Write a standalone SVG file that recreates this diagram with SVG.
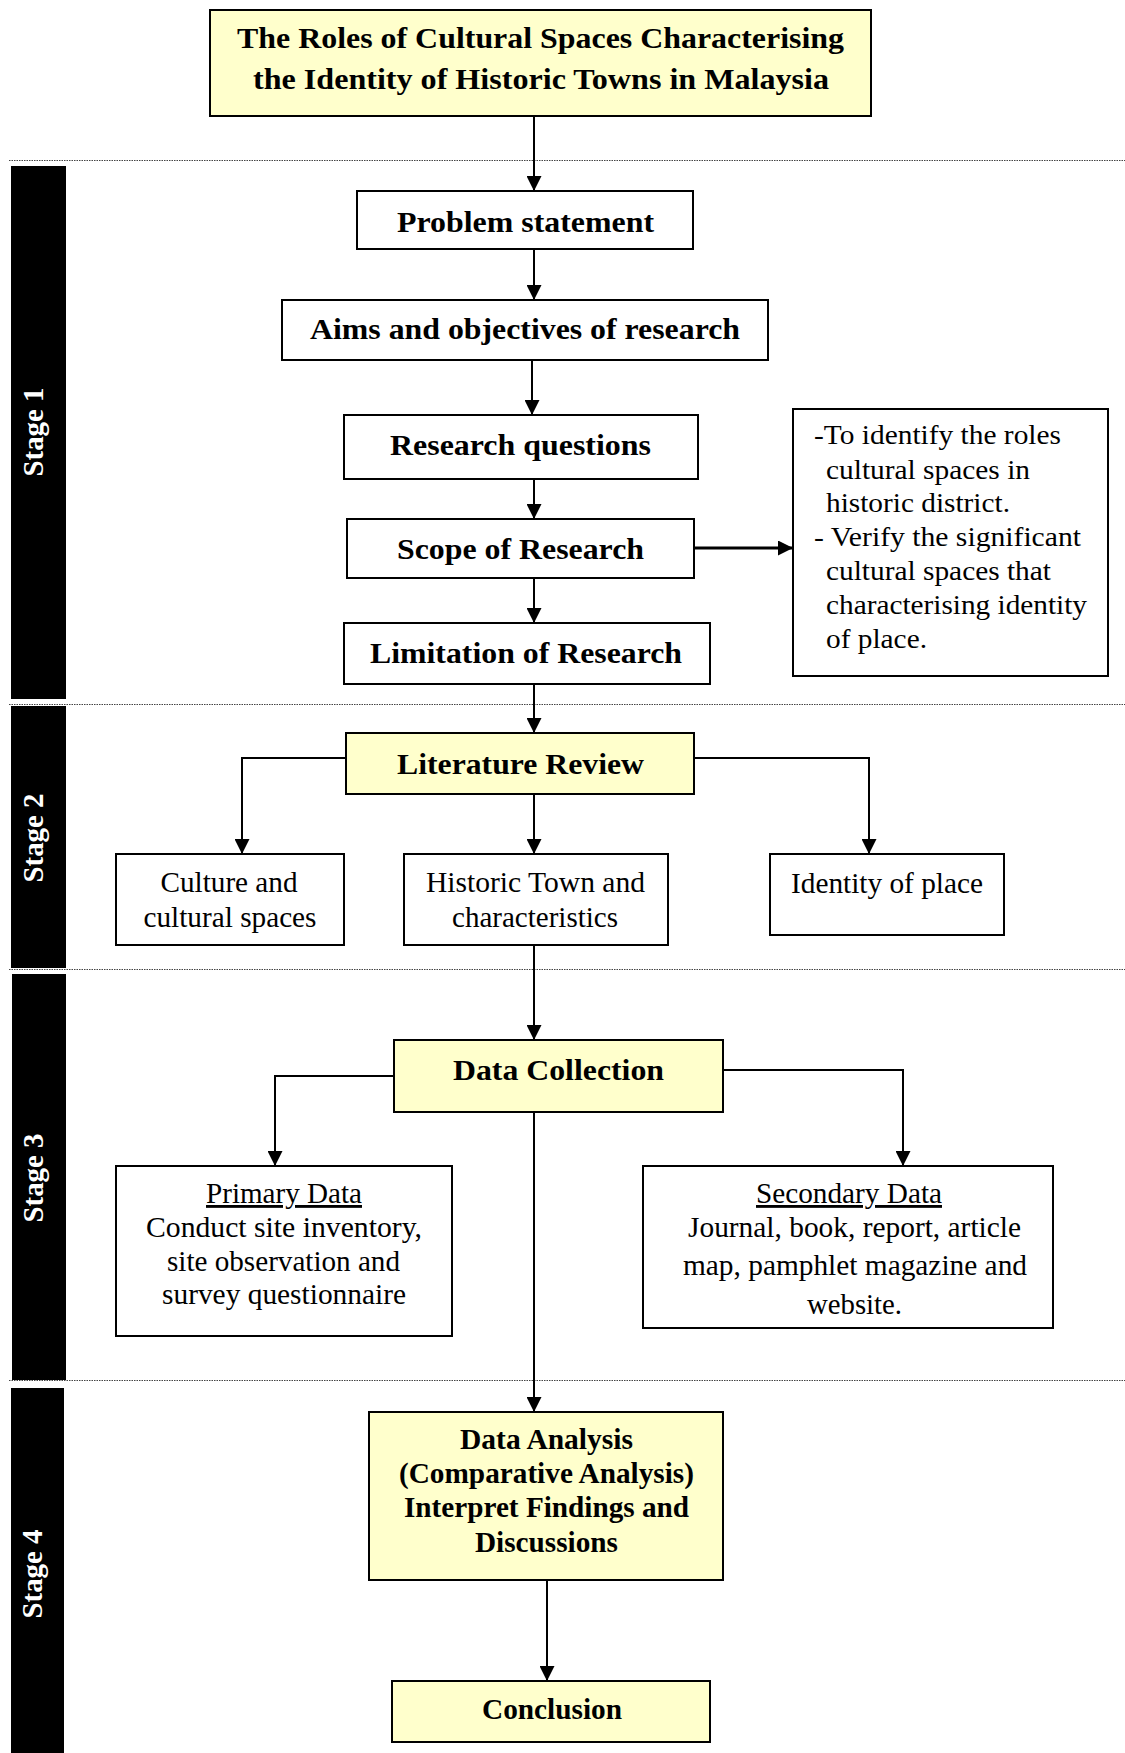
<svg xmlns="http://www.w3.org/2000/svg" width="1125" height="1753" viewBox="0 0 1125 1753">
<style>
.box{fill:#fff;stroke:#000;stroke-width:2}
.yb{fill:#FFFFCC;stroke:#000;stroke-width:2}
.b{font-family:'Liberation Serif','Times New Roman',Times,'Nimbus Roman',Tinos,serif;font-weight:bold;font-size:30px;fill:#000;text-anchor:middle}
.r{font-family:'Liberation Serif','Times New Roman',Times,'Nimbus Roman',Tinos,serif;font-size:28.5px;fill:#000;text-anchor:middle}
.rs{font-family:'Liberation Serif','Times New Roman',Times,'Nimbus Roman',Tinos,serif;font-size:28px;fill:#000}
.stage{font-family:'Liberation Serif','Times New Roman',Times,'Nimbus Roman',Tinos,serif;font-weight:bold;font-size:30px;fill:#fff;text-anchor:middle}
.bar{fill:#000}
.dot{stroke:#444;stroke-width:1;stroke-dasharray:1.5 1}
.c{fill:none;stroke:#000;stroke-width:2;marker-end:url(#ah)}
.ct{fill:none;stroke:#000;stroke-width:3;marker-end:url(#ah)}
</style>
<defs>
<marker id="ah" markerUnits="userSpaceOnUse" markerWidth="15" markerHeight="15" refX="15" refY="7.5" orient="auto">
<path d="M0,0 L15,7.5 L0,15 z" fill="#000"/>
</marker>
</defs>
<rect width="1125" height="1753" fill="#fff"/>

<g id="stages">
<line class="dot" x1="9" y1="160.5" x2="1125" y2="160.5"/>
<line class="dot" x1="9" y1="704.5" x2="1125" y2="704.5"/>
<line class="dot" x1="9" y1="969.5" x2="1125" y2="969.5"/>
<line class="dot" x1="9" y1="1380.5" x2="1125" y2="1380.5"/>
<g id="stage1"><rect class="bar" x="11" y="166" width="55" height="533"/><text class="stage" transform="translate(43,432) rotate(-90)" textLength="89" lengthAdjust="spacingAndGlyphs">Stage 1</text></g>
<g id="stage2"><rect class="bar" x="11" y="706" width="55" height="262"/><text class="stage" transform="translate(43,838) rotate(-90)" textLength="89" lengthAdjust="spacingAndGlyphs">Stage 2</text></g>
<g id="stage3"><rect class="bar" x="12" y="974" width="54" height="406"/><text class="stage" transform="translate(43,1178) rotate(-90)" textLength="89" lengthAdjust="spacingAndGlyphs">Stage 3</text></g>
<g id="stage4"><rect class="bar" x="11" y="1388" width="53" height="365"/><text class="stage" transform="translate(42,1574) rotate(-90)" textLength="89" lengthAdjust="spacingAndGlyphs">Stage 4</text></g>
</g>

<g id="connectors">
<path class="c" d="M534,116 V191"/>
<path class="c" d="M534,249 V300"/>
<path class="c" d="M532,360 V415"/>
<path class="c" d="M534,479 V519"/>
<path class="c" d="M534,578 V623"/>
<path class="ct" d="M694,548 H793"/>
<path class="c" d="M534,684 V733"/>
<path class="c" d="M346,758 H242 V854"/>
<path class="c" d="M534,794 V854"/>
<path class="c" d="M694,758 H869 V854"/>
<path class="c" d="M534,945 V1040"/>
<path class="c" d="M394,1076 H275 V1166"/>
<path class="c" d="M723,1070 H903 V1166"/>
<path class="c" d="M534,1112 V1412"/>
<path class="c" d="M547,1580 V1681"/>
</g>

<g id="title"><rect class="yb" x="210" y="10" width="661" height="106"/>
<text class="b" x="540.5" y="48" textLength="607" lengthAdjust="spacingAndGlyphs">The Roles of Cultural Spaces Characterising</text>
<text class="b" x="541" y="89" textLength="576" lengthAdjust="spacingAndGlyphs">the Identity of Historic Towns in Malaysia</text></g>

<g id="problem"><rect class="box" x="357" y="191" width="336" height="58"/>
<text class="b" x="525.5" y="232" textLength="257" lengthAdjust="spacingAndGlyphs">Problem statement</text></g>

<g id="aims"><rect class="box" x="282" y="300" width="486" height="60"/>
<text class="b" x="525" y="339" textLength="430" lengthAdjust="spacingAndGlyphs">Aims and objectives of research</text></g>

<g id="questions"><rect class="box" x="344" y="415" width="354" height="64"/>
<text class="b" x="520.5" y="455" textLength="261" lengthAdjust="spacingAndGlyphs">Research questions</text></g>

<g id="scope"><rect class="box" x="347" y="519" width="347" height="59"/>
<text class="b" x="520.5" y="559" textLength="247" lengthAdjust="spacingAndGlyphs">Scope of Research</text></g>

<g id="limitation"><rect class="box" x="344" y="623" width="366" height="61"/>
<text class="b" x="526" y="663" textLength="312" lengthAdjust="spacingAndGlyphs">Limitation of Research</text></g>

<g id="scope-notes"><rect class="box" x="793" y="409" width="315" height="267"/>
<text class="rs" x="814" y="444" textLength="247" lengthAdjust="spacingAndGlyphs">-To identify the roles</text>
<text class="rs" x="826" y="479" textLength="204" lengthAdjust="spacingAndGlyphs">cultural spaces in</text>
<text class="rs" x="826" y="512" textLength="184" lengthAdjust="spacingAndGlyphs">historic district.</text>
<text class="rs" x="814" y="546" textLength="267" lengthAdjust="spacingAndGlyphs">- Verify the significant</text>
<text class="rs" x="826" y="580" textLength="225" lengthAdjust="spacingAndGlyphs">cultural spaces that</text>
<text class="rs" x="826" y="614" textLength="261" lengthAdjust="spacingAndGlyphs">characterising identity</text>
<text class="rs" x="826" y="648" textLength="101" lengthAdjust="spacingAndGlyphs">of place.</text></g>

<g id="literature"><rect class="yb" x="346" y="733" width="348" height="61"/>
<text class="b" x="520.5" y="774" textLength="247" lengthAdjust="spacingAndGlyphs">Literature Review</text></g>

<g id="culture"><rect class="box" x="116" y="854" width="228" height="91"/>
<text class="r" x="229" y="892" textLength="137" lengthAdjust="spacingAndGlyphs">Culture and</text>
<text class="r" x="230" y="927" textLength="173" lengthAdjust="spacingAndGlyphs">cultural spaces</text></g>

<g id="historic"><rect class="box" x="404" y="854" width="264" height="91"/>
<text class="r" x="535.5" y="892" textLength="219" lengthAdjust="spacingAndGlyphs">Historic Town and</text>
<text class="r" x="535" y="927" textLength="166" lengthAdjust="spacingAndGlyphs">characteristics</text></g>

<g id="identity"><rect class="box" x="770" y="854" width="234" height="81"/>
<text class="r" x="887" y="893" textLength="192" lengthAdjust="spacingAndGlyphs">Identity of place</text></g>

<g id="collection"><rect class="yb" x="394" y="1040" width="329" height="72"/>
<text class="b" x="558.5" y="1080" textLength="211" lengthAdjust="spacingAndGlyphs">Data Collection</text></g>

<g id="primary"><rect class="box" x="116" y="1166" width="336" height="170"/>
<text class="r" x="284" y="1203" textLength="156" lengthAdjust="spacingAndGlyphs" text-decoration="underline">Primary Data</text>
<text class="r" x="284" y="1237" textLength="276" lengthAdjust="spacingAndGlyphs">Conduct site inventory,</text>
<text class="r" x="283.5" y="1271" textLength="233" lengthAdjust="spacingAndGlyphs">site observation and</text>
<text class="r" x="284" y="1304" textLength="244" lengthAdjust="spacingAndGlyphs">survey questionnaire</text></g>

<g id="secondary"><rect class="box" x="643" y="1166" width="410" height="162"/>
<text class="r" x="849" y="1203" textLength="186" lengthAdjust="spacingAndGlyphs" text-decoration="underline">Secondary Data</text>
<text class="r" x="854.5" y="1237" textLength="333" lengthAdjust="spacingAndGlyphs">Journal, book, report, article</text>
<text class="r" x="855" y="1275" textLength="344" lengthAdjust="spacingAndGlyphs">map, pamphlet magazine and</text>
<text class="r" x="854.5" y="1314" textLength="95" lengthAdjust="spacingAndGlyphs">website.</text></g>

<g id="analysis"><rect class="yb" x="369" y="1412" width="354" height="168"/>
<text class="b" x="546.5" y="1449" textLength="173" lengthAdjust="spacingAndGlyphs">Data Analysis</text>
<text class="b" x="546.5" y="1483" textLength="295" lengthAdjust="spacingAndGlyphs">(Comparative Analysis)</text>
<text class="b" x="546.5" y="1517" textLength="285" lengthAdjust="spacingAndGlyphs">Interpret Findings and</text>
<text class="b" x="546.5" y="1552" textLength="143" lengthAdjust="spacingAndGlyphs">Discussions</text></g>

<g id="conclusion"><rect class="yb" x="392" y="1681" width="318" height="61"/>
<text class="b" x="552" y="1719" textLength="140" lengthAdjust="spacingAndGlyphs">Conclusion</text></g>
</svg>
